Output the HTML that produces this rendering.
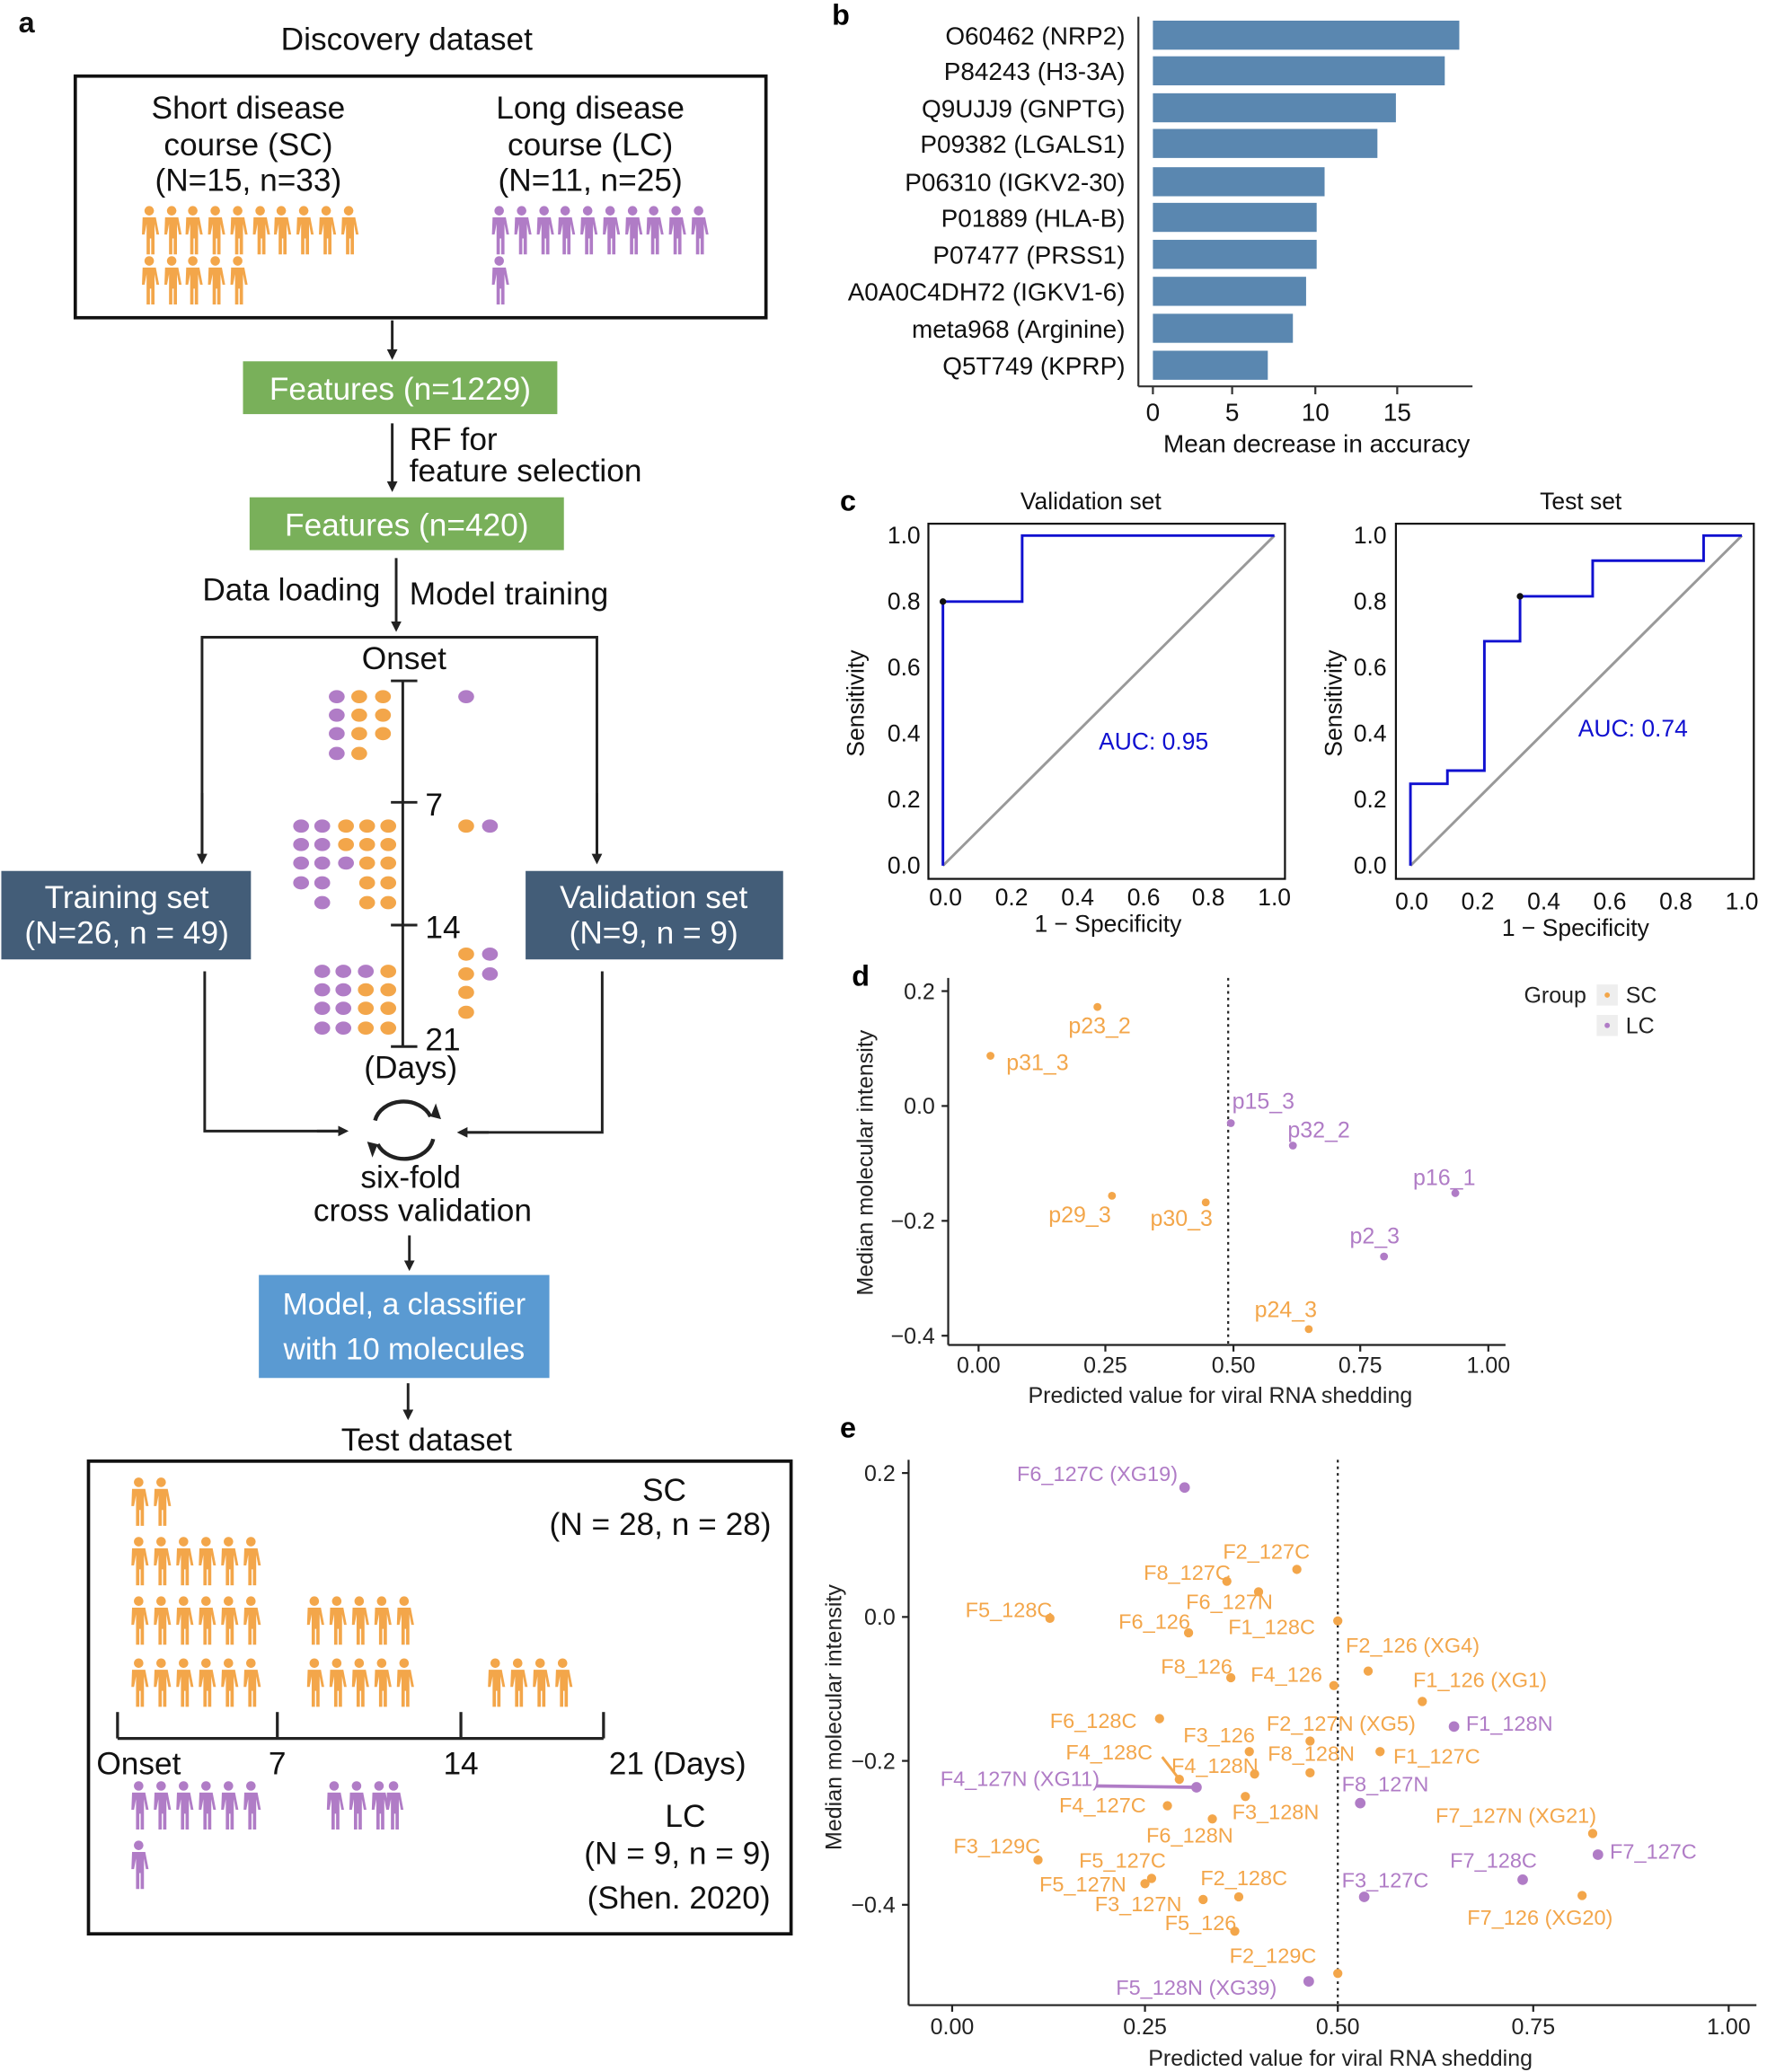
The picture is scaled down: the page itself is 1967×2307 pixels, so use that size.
<!DOCTYPE html>
<html><head><meta charset="utf-8"><style>
html,body{margin:0;padding:0;background:#fff}
svg{display:block;font-family:"Liberation Sans",Arial,sans-serif}
</style></head><body>
<svg width="1967" height="2307" viewBox="0 0 1338 1568" xmlns="http://www.w3.org/2000/svg">
<defs>
<symbol id="pp" viewBox="0 0 16 38" overflow="visible">
<circle cx="8" cy="4" r="3.6"/>
<path d="M3,9 h10 l2.5,13 h-2 l-1.5,-8 v23 h-2.5 v-12 h-1 v12 h-2.5 v-23 l-1.5,8 h-2 z"/>
</symbol>
<marker id="ar" markerWidth="8" markerHeight="8" refX="6" refY="4" orient="auto" markerUnits="userSpaceOnUse"><path d="M0,0 L8,4 L0,8 z" fill="#222"/></marker>
</defs>
<g font-size="24" fill="#111">
<text x="14" y="24" font-weight="bold" font-size="22">a</text>
<text x="308" y="37" text-anchor="middle">Discovery dataset</text>
<rect x="57" y="57" width="523" height="183" fill="none" stroke="#111" stroke-width="2.5"/>
<text x="188" y="89" text-anchor="middle">Short disease</text>
<text x="188" y="117" text-anchor="middle">course (SC)</text>
<text x="188" y="144" text-anchor="middle">(N=15, n=33)</text>
<text x="447" y="89" text-anchor="middle">Long disease</text>
<text x="447" y="117" text-anchor="middle">course (LC)</text>
<text x="447" y="144" text-anchor="middle">(N=11, n=25)</text>
</g>
<g fill="#f3a64a">
<use href="#pp" x="105" y="155" width="16" height="38"/><use href="#pp" x="122" y="155" width="16" height="38"/><use href="#pp" x="138" y="155" width="16" height="38"/><use href="#pp" x="155" y="155" width="16" height="38"/><use href="#pp" x="172" y="155" width="16" height="38"/><use href="#pp" x="189" y="155" width="16" height="38"/><use href="#pp" x="205" y="155" width="16" height="38"/><use href="#pp" x="222" y="155" width="16" height="38"/><use href="#pp" x="239" y="155" width="16" height="38"/><use href="#pp" x="256" y="155" width="16" height="38"/>
<use href="#pp" x="105" y="193" width="16" height="38"/><use href="#pp" x="122" y="193" width="16" height="38"/><use href="#pp" x="138" y="193" width="16" height="38"/><use href="#pp" x="155" y="193" width="16" height="38"/><use href="#pp" x="172" y="193" width="16" height="38"/>
</g>
<g fill="#b07cc6">
<use href="#pp" x="370" y="155" width="16" height="38"/><use href="#pp" x="387" y="155" width="16" height="38"/><use href="#pp" x="404" y="155" width="16" height="38"/><use href="#pp" x="420" y="155" width="16" height="38"/><use href="#pp" x="437" y="155" width="16" height="38"/><use href="#pp" x="454" y="155" width="16" height="38"/><use href="#pp" x="471" y="155" width="16" height="38"/><use href="#pp" x="487" y="155" width="16" height="38"/><use href="#pp" x="504" y="155" width="16" height="38"/><use href="#pp" x="521" y="155" width="16" height="38"/>
<use href="#pp" x="370" y="193" width="16" height="38"/>
</g>
<g stroke="#222" stroke-width="2" fill="none">
<line x1="297" y1="242" x2="297" y2="270" marker-end="url(#ar)"/>
<line x1="297" y1="320" x2="297" y2="370" marker-end="url(#ar)"/>
<line x1="300" y1="422" x2="300" y2="476" marker-end="url(#ar)"/>
<polyline points="153,648 153,482 452,482 452,648"/>
<line x1="153" y1="600" x2="153" y2="652" marker-end="url(#ar)"/>
<line x1="452" y1="600" x2="452" y2="652" marker-end="url(#ar)"/>
<polyline points="155,735 155,856 258,856" />
<line x1="240" y1="856" x2="262" y2="856" marker-end="url(#ar)"/>
<polyline points="456,735 456,857 352,857"/>
<line x1="370" y1="857" x2="348" y2="857" marker-end="url(#ar)"/>
<line x1="310" y1="935" x2="310" y2="960" marker-end="url(#ar)"/>
<line x1="309" y1="1047" x2="309" y2="1073" marker-end="url(#ar)"/>
<line x1="305" y1="515" x2="305" y2="792"/>
<line x1="296" y1="515" x2="316" y2="515"/><line x1="296" y1="607" x2="316" y2="607"/><line x1="296" y1="700" x2="316" y2="700"/><line x1="296" y1="792" x2="316" y2="792"/>
<path d="M284,848 A22,18 0 0 1 326,845" stroke-width="3"/>
<path d="M328,862 A22,18 0 0 1 286,866" stroke-width="3"/>
</g>
<path d="M326,845 l4,-10 l4,12 z" fill="#222"/><path d="M286,866 l-4,10 l-4,-12 z" fill="#222"/>
<rect x="184" y="273" width="238" height="40" fill="#79b05a"/>
<text x="303" y="302" text-anchor="middle" font-size="24" fill="#fff">Features (n=1229)</text>
<rect x="189" y="376" width="238" height="40" fill="#79b05a"/>
<text x="308" y="405" text-anchor="middle" font-size="24" fill="#fff">Features (n=420)</text>
<g font-size="24" fill="#111">
<text x="310" y="340">RF for</text><text x="310" y="364">feature selection</text>
<text x="288" y="454" text-anchor="end">Data loading</text>
<text x="310" y="457">Model training</text>
<text x="306" y="506" text-anchor="middle">Onset</text>
<text x="322" y="617">7</text><text x="322" y="710">14</text><text x="322" y="795">21</text>
<text x="311" y="816" text-anchor="middle">(Days)</text>
<text x="311" y="899" text-anchor="middle">six-fold</text>
<text x="320" y="924" text-anchor="middle">cross validation</text>
<text x="323" y="1098" text-anchor="middle">Test dataset</text>
</g>
<rect x="1" y="659" width="189" height="67" fill="#435d78"/>
<text x="96" y="687" text-anchor="middle" font-size="24" fill="#fff">Training set</text>
<text x="96" y="714" text-anchor="middle" font-size="24" fill="#fff">(N=26, n = 49)</text>
<rect x="398" y="659" width="195" height="67" fill="#435d78"/>
<text x="495" y="687" text-anchor="middle" font-size="24" fill="#fff">Validation set</text>
<text x="495" y="714" text-anchor="middle" font-size="24" fill="#fff">(N=9, n = 9)</text>
<rect x="196" y="965" width="220" height="78" fill="#5a9ad2"/>
<text x="306" y="995" text-anchor="middle" font-size="23" fill="#fff">Model, a classifier</text>
<text x="306" y="1029" text-anchor="middle" font-size="23" fill="#fff">with 10 molecules</text>
<!-- dots -->
<g fill="#b07cc6">
<ellipse cx="255" cy="527" rx="6" ry="5"/><ellipse cx="255" cy="541" rx="6" ry="5"/><ellipse cx="255" cy="555" rx="6" ry="5"/><ellipse cx="255" cy="570" rx="6" ry="5"/><ellipse cx="353" cy="527" rx="6" ry="5"/>
<ellipse cx="228" cy="625" rx="6" ry="5"/><ellipse cx="244" cy="625" rx="6" ry="5"/><ellipse cx="228" cy="639" rx="6" ry="5"/><ellipse cx="244" cy="639" rx="6" ry="5"/><ellipse cx="228" cy="653" rx="6" ry="5"/><ellipse cx="244" cy="653" rx="6" ry="5"/><ellipse cx="262" cy="653" rx="6" ry="5"/><ellipse cx="228" cy="668" rx="6" ry="5"/><ellipse cx="244" cy="668" rx="6" ry="5"/><ellipse cx="244" cy="683" rx="6" ry="5"/><ellipse cx="371" cy="625" rx="6" ry="5"/>
<ellipse cx="244" cy="735" rx="6" ry="5"/><ellipse cx="260" cy="735" rx="6" ry="5"/><ellipse cx="277" cy="735" rx="6" ry="5"/><ellipse cx="244" cy="749" rx="6" ry="5"/><ellipse cx="260" cy="749" rx="6" ry="5"/><ellipse cx="244" cy="763" rx="6" ry="5"/><ellipse cx="260" cy="763" rx="6" ry="5"/><ellipse cx="244" cy="778" rx="6" ry="5"/><ellipse cx="260" cy="778" rx="6" ry="5"/><ellipse cx="371" cy="722" rx="6" ry="5"/><ellipse cx="371" cy="737" rx="6" ry="5"/>
</g>
<g fill="#f3a64a">
<ellipse cx="272" cy="527" rx="6" ry="5"/><ellipse cx="272" cy="541" rx="6" ry="5"/><ellipse cx="272" cy="555" rx="6" ry="5"/><ellipse cx="272" cy="570" rx="6" ry="5"/><ellipse cx="290" cy="527" rx="6" ry="5"/><ellipse cx="290" cy="541" rx="6" ry="5"/><ellipse cx="290" cy="555" rx="6" ry="5"/>
<ellipse cx="262" cy="625" rx="6" ry="5"/><ellipse cx="278" cy="625" rx="6" ry="5"/><ellipse cx="294" cy="625" rx="6" ry="5"/><ellipse cx="262" cy="639" rx="6" ry="5"/><ellipse cx="278" cy="639" rx="6" ry="5"/><ellipse cx="294" cy="639" rx="6" ry="5"/><ellipse cx="278" cy="653" rx="6" ry="5"/><ellipse cx="294" cy="653" rx="6" ry="5"/><ellipse cx="278" cy="668" rx="6" ry="5"/><ellipse cx="294" cy="668" rx="6" ry="5"/><ellipse cx="278" cy="683" rx="6" ry="5"/><ellipse cx="294" cy="683" rx="6" ry="5"/><ellipse cx="353" cy="625" rx="6" ry="5"/>
<ellipse cx="294" cy="735" rx="6" ry="5"/><ellipse cx="277" cy="749" rx="6" ry="5"/><ellipse cx="294" cy="749" rx="6" ry="5"/><ellipse cx="277" cy="763" rx="6" ry="5"/><ellipse cx="294" cy="763" rx="6" ry="5"/><ellipse cx="277" cy="778" rx="6" ry="5"/><ellipse cx="294" cy="778" rx="6" ry="5"/><ellipse cx="353" cy="722" rx="6" ry="5"/><ellipse cx="353" cy="737" rx="6" ry="5"/><ellipse cx="353" cy="751" rx="6" ry="5"/><ellipse cx="353" cy="766" rx="6" ry="5"/>
</g>
<!-- test dataset -->
<rect x="67" y="1106" width="532" height="358" fill="none" stroke="#111" stroke-width="2.5"/>
<g fill="#f3a64a">
<use href="#pp" x="97" y="1118" width="16" height="38"/><use href="#pp" x="114" y="1118" width="16" height="38"/>
<use href="#pp" x="97" y="1163" width="16" height="38"/><use href="#pp" x="114" y="1163" width="16" height="38"/><use href="#pp" x="131" y="1163" width="16" height="38"/><use href="#pp" x="148" y="1163" width="16" height="38"/><use href="#pp" x="165" y="1163" width="16" height="38"/><use href="#pp" x="182" y="1163" width="16" height="38"/>
<use href="#pp" x="97" y="1208" width="16" height="38"/><use href="#pp" x="114" y="1208" width="16" height="38"/><use href="#pp" x="131" y="1208" width="16" height="38"/><use href="#pp" x="148" y="1208" width="16" height="38"/><use href="#pp" x="165" y="1208" width="16" height="38"/><use href="#pp" x="182" y="1208" width="16" height="38"/>
<use href="#pp" x="97" y="1255" width="16" height="38"/><use href="#pp" x="114" y="1255" width="16" height="38"/><use href="#pp" x="131" y="1255" width="16" height="38"/><use href="#pp" x="148" y="1255" width="16" height="38"/><use href="#pp" x="165" y="1255" width="16" height="38"/><use href="#pp" x="182" y="1255" width="16" height="38"/>
<use href="#pp" x="230" y="1208" width="16" height="38"/><use href="#pp" x="247" y="1208" width="16" height="38"/><use href="#pp" x="264" y="1208" width="16" height="38"/><use href="#pp" x="281" y="1208" width="16" height="38"/><use href="#pp" x="298" y="1208" width="16" height="38"/>
<use href="#pp" x="230" y="1255" width="16" height="38"/><use href="#pp" x="247" y="1255" width="16" height="38"/><use href="#pp" x="264" y="1255" width="16" height="38"/><use href="#pp" x="281" y="1255" width="16" height="38"/><use href="#pp" x="298" y="1255" width="16" height="38"/>
<use href="#pp" x="367" y="1255" width="16" height="38"/><use href="#pp" x="384" y="1255" width="16" height="38"/><use href="#pp" x="401" y="1255" width="16" height="38"/><use href="#pp" x="418" y="1255" width="16" height="38"/>
</g>
<g fill="#b07cc6">
<use href="#pp" x="97" y="1348" width="16" height="38"/><use href="#pp" x="114" y="1348" width="16" height="38"/><use href="#pp" x="131" y="1348" width="16" height="38"/><use href="#pp" x="148" y="1348" width="16" height="38"/><use href="#pp" x="165" y="1348" width="16" height="38"/><use href="#pp" x="182" y="1348" width="16" height="38"/>
<use href="#pp" x="245" y="1348" width="16" height="38"/><use href="#pp" x="262" y="1348" width="16" height="38"/><use href="#pp" x="279" y="1348" width="16" height="38"/><use href="#pp" x="290" y="1348" width="16" height="38"/>
<use href="#pp" x="97" y="1393" width="16" height="38"/>
</g>
<g stroke="#222" stroke-width="2.2"><line x1="89" y1="1316" x2="457" y2="1316"/><line x1="89" y1="1296" x2="89" y2="1316"/><line x1="210" y1="1296" x2="210" y2="1316"/><line x1="349" y1="1296" x2="349" y2="1316"/><line x1="457" y1="1296" x2="457" y2="1316"/></g>
<g font-size="24" fill="#111">
<text x="73" y="1343">Onset</text><text x="210" y="1343" text-anchor="middle">7</text><text x="349" y="1343" text-anchor="middle">14</text><text x="461" y="1343">21  (Days)</text>
<text x="503" y="1136" text-anchor="middle">SC</text><text x="500" y="1162" text-anchor="middle">(N = 28, n = 28)</text>
<text x="519" y="1383" text-anchor="middle">LC</text><text x="513" y="1411" text-anchor="middle">(N = 9, n = 9)</text><text x="514" y="1445" text-anchor="middle">(Shen. 2020)</text>
</g>
<!-- panel b -->
<text x="630" y="18" font-weight="bold" font-size="22">b</text>
<g fill="#5a87b0">
<rect x="873" y="15" width="232" height="22"/><rect x="873" y="42" width="221" height="22"/><rect x="873" y="70" width="184" height="22"/><rect x="873" y="97" width="170" height="22"/><rect x="873" y="126" width="130" height="22"/><rect x="873" y="153" width="124" height="22"/><rect x="873" y="181" width="124" height="22"/><rect x="873" y="209" width="116" height="22"/><rect x="873" y="237" width="106" height="22"/><rect x="873" y="265" width="87" height="22"/>
</g>
<g font-size="19" fill="#111" text-anchor="end">
<text x="852" y="33">O60462 (NRP2)</text><text x="852" y="60">P84243 (H3-3A)</text><text x="852" y="88">Q9UJJ9 (GNPTG)</text><text x="852" y="115">P09382 (LGALS1)</text><text x="852" y="144">P06310 (IGKV2-30)</text><text x="852" y="171">P01889 (HLA-B)</text><text x="852" y="199">P07477 (PRSS1)</text><text x="852" y="227">A0A0C4DH72 (IGKV1-6)</text><text x="852" y="255">meta968 (Arginine)</text><text x="852" y="283">Q5T749 (KPRP)</text>
</g>
<g stroke="#333" stroke-width="1.5"><line x1="862" y1="12" x2="862" y2="292"/><line x1="862" y1="292" x2="1115" y2="292"/>
<line x1="873" y1="292" x2="873" y2="298"/><line x1="933" y1="292" x2="933" y2="298"/><line x1="996" y1="292" x2="996" y2="298"/><line x1="1058" y1="292" x2="1058" y2="298"/></g>
<g font-size="19" fill="#111" text-anchor="middle"><text x="873" y="318">0</text><text x="933" y="318">5</text><text x="996" y="318">10</text><text x="1058" y="318">15</text>
<text x="997" y="342">Mean decrease in accuracy</text></g>
<!-- panel c -->
<text x="636" y="386" font-weight="bold" font-size="22">c</text>
<g font-size="18" fill="#111">
<text x="826" y="385" text-anchor="middle">Validation set</text><text x="1197" y="385" text-anchor="middle">Test set</text>
<g text-anchor="end"><text x="697" y="411">1.0</text><text x="697" y="461">0.8</text><text x="697" y="511">0.6</text><text x="697" y="561">0.4</text><text x="697" y="611">0.2</text><text x="697" y="661">0.0</text>
<text x="1050" y="411">1.0</text><text x="1050" y="461">0.8</text><text x="1050" y="511">0.6</text><text x="1050" y="561">0.4</text><text x="1050" y="611">0.2</text><text x="1050" y="661">0.0</text></g>
<g text-anchor="middle"><text x="716" y="685">0.0</text><text x="766" y="685">0.2</text><text x="816" y="685">0.4</text><text x="866" y="685">0.6</text><text x="915" y="685">0.8</text><text x="965" y="685">1.0</text>
<text x="1069" y="688">0.0</text><text x="1119" y="688">0.2</text><text x="1169" y="688">0.4</text><text x="1219" y="688">0.6</text><text x="1269" y="688">0.8</text><text x="1319" y="688">1.0</text>
<text x="839" y="705">1 − Specificity</text><text x="1193" y="708">1 − Specificity</text></g>
<text transform="translate(654,532) rotate(-90)" text-anchor="middle">Sensitivity</text>
<text transform="translate(1016,532) rotate(-90)" text-anchor="middle">Sensitivity</text>
</g>
<rect x="703" y="396" width="270" height="269" fill="none" stroke="#111" stroke-width="1.5"/>
<rect x="1057" y="396" width="271" height="269" fill="none" stroke="#111" stroke-width="1.5"/>
<line x1="714" y1="655" x2="965" y2="405" stroke="#999" stroke-width="2"/>
<line x1="1068" y1="655" x2="1319" y2="405" stroke="#999" stroke-width="2"/>
<polyline points="714,655 714,455 774,455 774,405 965,405" fill="none" stroke="#1010d0" stroke-width="2"/>
<polyline points="1068,655 1068,593 1096,593 1096,583 1124,583 1124,485 1151,485 1151,451 1206,451 1206,424 1290,424 1290,405 1319,405" fill="none" stroke="#1010d0" stroke-width="2"/>
<circle cx="714" cy="455" r="2.5" fill="#111"/><circle cx="1151" cy="451" r="2.5" fill="#111"/>
<text x="832" y="567" font-size="18" fill="#1010d0">AUC: 0.95</text>
<text x="1195" y="557" font-size="18" fill="#1010d0">AUC: 0.74</text>
<!-- panel d -->
<text x="645" y="746" font-weight="bold" font-size="22">d</text>
<g stroke="#222" stroke-width="1.5"><line x1="718" y1="740" x2="718" y2="1018"/><line x1="718" y1="1018" x2="1140" y2="1018"/>
<line x1="713" y1="750" x2="718" y2="750"/><line x1="713" y1="837" x2="718" y2="837"/><line x1="713" y1="924" x2="718" y2="924"/><line x1="713" y1="1011" x2="718" y2="1011"/>
<line x1="741" y1="1018" x2="741" y2="1023"/><line x1="837" y1="1018" x2="837" y2="1023"/><line x1="934" y1="1018" x2="934" y2="1023"/><line x1="1030" y1="1018" x2="1030" y2="1023"/><line x1="1127" y1="1018" x2="1127" y2="1023"/></g>
<line x1="930" y1="740" x2="930" y2="1018" stroke="#222" stroke-width="1.5" stroke-dasharray="2,3"/>
<g font-size="17" fill="#222">
<g text-anchor="end"><text x="708" y="756">0.2</text><text x="708" y="843">0.0</text><text x="708" y="930">−0.2</text><text x="708" y="1017">−0.4</text></g>
<g text-anchor="middle"><text x="741" y="1039">0.00</text><text x="837" y="1039">0.25</text><text x="934" y="1039">0.50</text><text x="1030" y="1039">0.75</text><text x="1127" y="1039">1.00</text>
<text x="924" y="1062">Predicted value for viral RNA shedding</text></g>
<text transform="translate(661,880) rotate(-90)" text-anchor="middle">Median molecular intensity</text>
<text x="1154" y="759">Group</text>
<rect x="1209" y="745" width="16" height="16" fill="#eee"/><rect x="1209" y="768" width="16" height="16" fill="#eee"/>
<circle cx="1217" cy="753" r="2" fill="#f3a64a"/><circle cx="1217" cy="776" r="2" fill="#b07cc6"/>
<text x="1231" y="759">SC</text><text x="1231" y="782">LC</text>
</g>
<g font-size="17" fill="#f3a64a">
<circle cx="831" cy="762" r="3"/><text x="809" y="782">p23_2</text>
<circle cx="750" cy="799" r="3"/><text x="762" y="810">p31_3</text>
<circle cx="842" cy="905" r="3"/><text x="794" y="925">p29_3</text>
<circle cx="913" cy="910" r="3"/><text x="871" y="928">p30_3</text>
<circle cx="991" cy="1006" r="3"/><text x="950" y="997">p24_3</text>
</g>
<g font-size="17" fill="#b07cc6">
<circle cx="932" cy="850" r="3"/><text x="933" y="839">p15_3</text>
<circle cx="979" cy="867" r="3"/><text x="975" y="861">p32_2</text>
<circle cx="1102" cy="903" r="3"/><text x="1070" y="897">p16_1</text>
<circle cx="1048" cy="951" r="3"/><text x="1022" y="941">p2_3</text>
</g>
<!-- panel e -->
<text x="636" y="1088" font-weight="bold" font-size="22">e</text>
<g stroke="#222" stroke-width="1.5"><line x1="688" y1="1105" x2="688" y2="1518"/><line x1="688" y1="1518" x2="1330" y2="1518"/>
<line x1="683" y1="1115" x2="688" y2="1115"/><line x1="683" y1="1224" x2="688" y2="1224"/><line x1="683" y1="1333" x2="688" y2="1333"/><line x1="683" y1="1442" x2="688" y2="1442"/>
<line x1="721" y1="1518" x2="721" y2="1523"/><line x1="867" y1="1518" x2="867" y2="1523"/><line x1="1013" y1="1518" x2="1013" y2="1523"/><line x1="1161" y1="1518" x2="1161" y2="1523"/><line x1="1309" y1="1518" x2="1309" y2="1523"/></g>
<line x1="1013" y1="1105" x2="1013" y2="1518" stroke="#222" stroke-width="1.5" stroke-dasharray="2,3"/>
<g font-size="17" fill="#222">
<g text-anchor="end"><text x="678" y="1121">0.2</text><text x="678" y="1230">0.0</text><text x="678" y="1339">−0.2</text><text x="678" y="1448">−0.4</text></g>
<g text-anchor="middle"><text x="721" y="1540">0.00</text><text x="867" y="1540">0.25</text><text x="1013" y="1540">0.50</text><text x="1161" y="1540">0.75</text><text x="1309" y="1540">1.00</text>
<text x="1015" y="1564">Predicted value for viral RNA shedding</text></g>
<text transform="translate(637,1300) rotate(-90)" text-anchor="middle">Median molecular intensity</text>
</g>
<line x1="880" y1="1330" x2="893" y2="1347" stroke="#f3a64a" stroke-width="2"/>
<line x1="830" y1="1352" x2="906" y2="1353" stroke="#b07cc6" stroke-width="2.5"/>
<g font-size="16" fill="#f3a64a">
<circle cx="982" cy="1188" r="3.5"/><text x="926" y="1180">F2_127C</text>
<circle cx="929" cy="1197" r="3.5"/><text x="866" y="1196">F8_127C</text>
<circle cx="953" cy="1205" r="3.5"/><text x="898" y="1218">F6_127N</text>
<circle cx="795" cy="1225" r="3.5"/><text x="731" y="1224">F5_128C</text>
<circle cx="900" cy="1236" r="3.5"/><text x="847" y="1233">F6_126</text>
<circle cx="1013" cy="1227" r="3.5"/><text x="930" y="1237">F1_128C</text>
<circle cx="1036" cy="1265" r="3.5"/><text x="1019" y="1251">F2_126 (XG4)</text>
<circle cx="932" cy="1270" r="3.5"/><text x="879" y="1267">F8_126</text>
<circle cx="1010" cy="1276" r="3.5"/><text x="947" y="1273">F4_126</text>
<circle cx="1077" cy="1288" r="3.5"/><text x="1070" y="1277">F1_126 (XG1)</text>
<circle cx="878" cy="1301" r="3.5"/><text x="795" y="1308">F6_128C</text>
<circle cx="946" cy="1326" r="3.5"/><text x="896" y="1319">F3_126</text>
<circle cx="992" cy="1318" r="3.5"/><text x="959" y="1310">F2_127N (XG5)</text>
<circle cx="1045" cy="1326" r="3.5"/><text x="1055" y="1335">F1_127C</text>
<circle cx="893" cy="1347" r="3.5"/><text x="807" y="1332">F4_128C</text>
<circle cx="950" cy="1343" r="3.5"/><text x="887" y="1342">F4_128N</text>
<circle cx="992" cy="1342" r="3.5"/><text x="960" y="1333">F8_128N</text>
<circle cx="884" cy="1367" r="3.5"/><text x="802" y="1372">F4_127C</text>
<circle cx="943" cy="1360" r="3.5"/><text x="933" y="1377">F3_128N</text>
<circle cx="1206" cy="1388" r="3.5"/><text x="1087" y="1380">F7_127N (XG21)</text>
<circle cx="918" cy="1377" r="3.5"/><text x="868" y="1395">F6_128N</text>
<circle cx="786" cy="1408" r="3.5"/><text x="722" y="1403">F3_129C</text>
<circle cx="872" cy="1422" r="3.5"/><text x="817" y="1414">F5_127C</text>
<circle cx="867" cy="1426" r="3.5"/><text x="787" y="1432">F5_127N</text>
<circle cx="938" cy="1436" r="3.5"/><text x="909" y="1427">F2_128C</text>
<circle cx="911" cy="1438" r="3.5"/><text x="829" y="1447">F3_127N</text>
<circle cx="1198" cy="1435" r="3.5"/><text x="1111" y="1457">F7_126 (XG20)</text>
<circle cx="935" cy="1462" r="3.5"/><text x="882" y="1461">F5_126</text>
<circle cx="1013" cy="1494" r="3.5"/><text x="931" y="1486">F2_129C</text>
</g>
<g font-size="16" fill="#b07cc6">
<circle cx="897" cy="1126" r="4"/><text x="770" y="1121">F6_127C (XG19)</text>
<circle cx="1101" cy="1307" r="4"/><text x="1110" y="1310">F1_128N</text>
<circle cx="1030" cy="1365" r="4"/><text x="1016" y="1356">F8_127N</text>
<circle cx="906" cy="1353" r="4"/><text x="712" y="1352">F4_127N (XG11)</text>
<circle cx="1210" cy="1404" r="4"/><text x="1219" y="1407">F7_127C</text>
<circle cx="1153" cy="1423" r="4"/><text x="1098" y="1414">F7_128C</text>
<circle cx="1033" cy="1436" r="4"/><text x="1016" y="1429">F3_127C</text>
<circle cx="991" cy="1500" r="4"/><text x="845" y="1510">F5_128N (XG39)</text>
</g>
</svg>
</body></html>
